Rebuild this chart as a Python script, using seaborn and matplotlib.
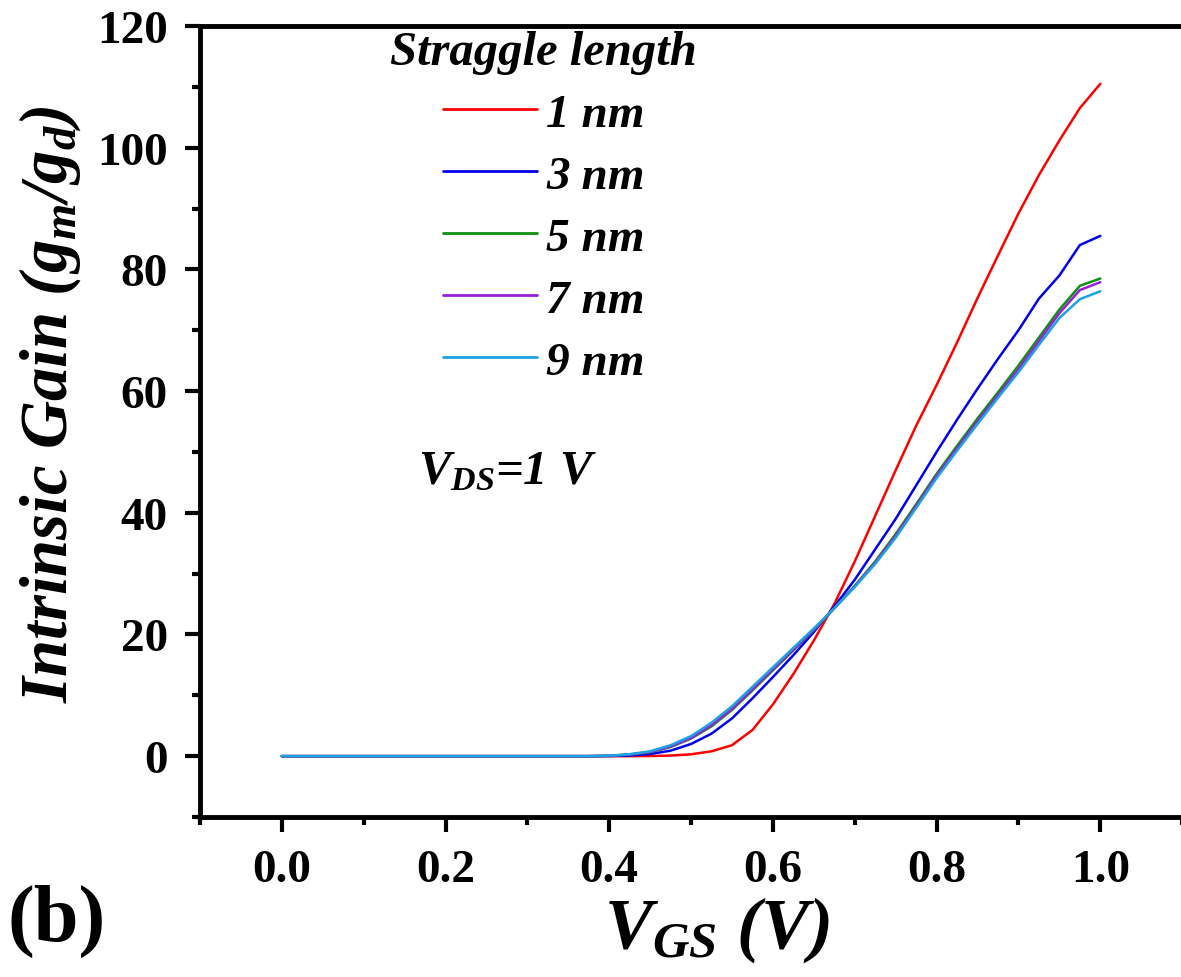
import numpy as np
import pandas as pd
import matplotlib
matplotlib.use("Agg")
import matplotlib.pyplot as plt
from matplotlib.ticker import MultipleLocator
import seaborn as sns

vgs = [0.0, 0.025, 0.05, 0.075, 0.1, 0.125, 0.15, 0.175, 0.2, 0.225, 0.25, 0.275,
       0.3, 0.325, 0.35, 0.375, 0.4, 0.425, 0.45, 0.475, 0.5, 0.525, 0.55, 0.575,
       0.6, 0.625, 0.65, 0.675, 0.7, 0.725, 0.75, 0.775, 0.8, 0.825, 0.85, 0.875,
       0.9, 0.925, 0.95, 0.975, 1.0]

gain_1nm = [0, 0, 0, 0, 0, 0, 0, 0, 0, 0, 0, 0, 0, 0, 0, 0,
            0.0, 0.0, 0.02, 0.1, 0.3, 0.8, 1.8, 4.3, 8.5, 13.5, 19.0, 25.0,
            32.0, 39.5, 47.0, 54.3, 61.0, 68.0, 75.3, 82.3, 89.2, 95.5, 101.2, 106.5, 110.5]
gain_3nm = [0, 0, 0, 0, 0, 0, 0, 0, 0, 0, 0, 0, 0, 0, 0, 0,
            0.02, 0.1, 0.35, 0.9, 2.0, 3.7, 6.2, 9.5, 13.0, 16.6, 20.4, 24.6,
            29.0, 34.0, 39.0, 44.5, 50.0, 55.3, 60.4, 65.3, 70.0, 75.2, 79.0, 84.0, 85.5]
gain_5nm = [0, 0, 0, 0, 0, 0, 0, 0, 0, 0, 0, 0, 0, 0, 0, 0,
            0.05, 0.25, 0.65, 1.5, 2.9, 4.9, 7.6, 10.8, 14.1, 17.4, 20.7, 24.3,
            28.0, 32.0, 36.5, 41.4, 46.4, 51.0, 55.5, 59.8, 64.2, 68.8, 73.4, 77.3, 78.5]
gain_7nm = [0, 0, 0, 0, 0, 0, 0, 0, 0, 0, 0, 0, 0, 0, 0, 0,
            0.06, 0.28, 0.7, 1.6, 3.0, 5.1, 7.8, 11.0, 14.3, 17.5, 20.8, 24.3,
            27.9, 31.8, 36.2, 41.1, 46.1, 50.6, 55.0, 59.3, 63.6, 68.2, 72.8, 76.6, 77.9]
gain_9nm = [0, 0, 0, 0, 0, 0, 0, 0, 0, 0, 0, 0, 0, 0, 0, 0,
            0.08, 0.32, 0.8, 1.8, 3.3, 5.5, 8.2, 11.4, 14.6, 17.8, 21.0, 24.3,
            27.8, 31.6, 35.9, 40.8, 45.7, 50.2, 54.6, 58.9, 63.1, 67.6, 72.0, 75.1, 76.4]

labels = ["1 nm", "3 nm", "5 nm", "7 nm", "9 nm"]
colors = ["#FF0000", "#0000F0", "#109010", "#9A1FD8", "#1BA3E3"]
series = [gain_1nm, gain_3nm, gain_5nm, gain_7nm, gain_9nm]

df = pd.concat([pd.DataFrame({"vgs": vgs, "gain": s, "L": lab})
                for s, lab in zip(series, labels)], ignore_index=True)

sns.set_style("ticks")
plt.rcParams["font.family"] = ["Liberation Serif", "DejaVu Serif"]
plt.rcParams["font.weight"] = "bold"
plt.rcParams["text.color"] = "black"
plt.rcParams["axes.labelcolor"] = "black"
plt.rcParams["xtick.color"] = "black"
plt.rcParams["ytick.color"] = "black"
plt.rcParams["mathtext.fontset"] = "custom"
plt.rcParams["mathtext.it"] = "Liberation Serif:italic:bold"
plt.rcParams["mathtext.rm"] = "Liberation Serif:italic:bold"
plt.rcParams["mathtext.bf"] = "Liberation Serif:italic:bold"

fig = plt.figure(figsize=(11.81, 9.78), dpi=100)
ax = fig.add_axes([0.1693, 0.1636, 0.8317, 0.8088])

sns.lineplot(data=df, x="vgs", y="gain", hue="L", palette=dict(zip(labels, colors)),
             linewidth=1.8, ax=ax, legend=True)

ax.set_xlim(-0.1, 1.1)
ax.set_ylim(-10, 120)
ax.xaxis.set_minor_locator(MultipleLocator(0.1))
ax.yaxis.set_minor_locator(MultipleLocator(10))
ax.set_xticks([0.0, 0.2, 0.4, 0.6, 0.8, 1.0])
ax.set_xticklabels(["0.0", "0.2", "0.4", "0.6", "0.8", "1.0"])
ax.set_yticks([0, 20, 40, 60, 80, 100, 120])
ax.set_yticklabels(["0", "20", "40", "60", "80", "100", "120"])

for sp in ["left", "bottom", "top"]:
    ax.spines[sp].set_linewidth(3.5)
    ax.spines[sp].set_color("black")
ax.spines["right"].set_visible(False)

ax.tick_params(which="major", direction="out", length=11, width=3, pad=12,
               labelsize=34, top=False, right=False, color="black", labelcolor="black")
ax.tick_params(which="minor", direction="out", length=6, width=3, top=False, right=False,
               color="black")
for lab in ax.get_xticklabels() + ax.get_yticklabels():
    lab.set_fontweight("bold")

ax.set_xlabel(r"$V_{GS}$ (V)", fontsize=52, fontstyle="italic", fontweight="bold",
              color="black")
ax.set_ylabel(r"Intrinsic Gain ($g_m/g_d$)", fontsize=48, fontstyle="italic",
              fontweight="bold", color="black")
ax.xaxis.set_label_coords(0.527, -0.098)
ax.yaxis.set_label_coords(-0.119, 0.523)

leg = ax.legend(title="Straggle length", loc="upper center", bbox_to_anchor=(0.35, 0.995),
                frameon=False, fontsize=34, title_fontsize=35, handlelength=2.0,
                handletextpad=0.2, labelspacing=0.4, borderpad=0.0, borderaxespad=0.0)
leg.get_title().set_fontstyle("italic")
leg.get_title().set_fontweight("bold")
leg.get_title().set_color("black")
for t in leg.get_texts():
    t.set_fontstyle("italic")
    t.set_fontweight("bold")
    t.set_color("black")
for h in leg.get_lines():
    h.set_linewidth(2.0)

ax.text(0.222, 0.437, r"$V_{DS}$=1 V", transform=ax.transAxes, fontsize=35,
        fontstyle="italic", fontweight="bold", ha="left", va="center", color="black")

fig.text(0.006, 0.058, "(b)", fontsize=58, fontweight="bold", ha="left", va="center",
         color="black")

fig.savefig("out.png", dpi=100)
